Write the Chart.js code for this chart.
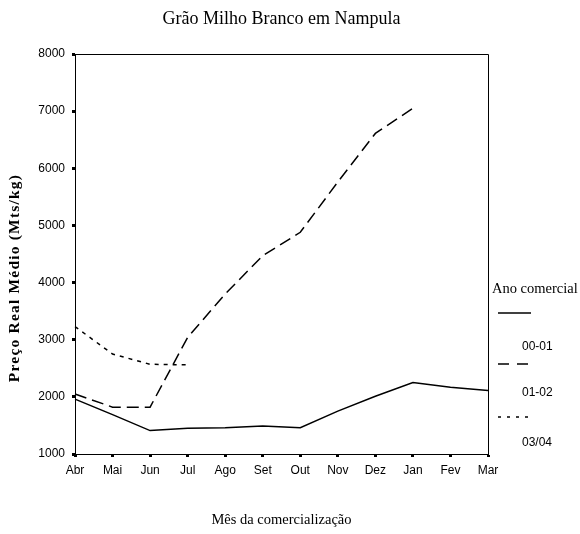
<!DOCTYPE html>
<html>
<head>
<meta charset="utf-8">
<script src="https://cdn.jsdelivr.net/npm/chart.js@4"></script>
<style>
  html, body { margin: 0; padding: 0; background: #ffffff; }
  #wrap { width: 580px; height: 534px; }
</style>
</head>
<body>
<div id="wrap"><canvas id="c" width="580" height="534"></canvas></div>
<script>
// ---- data ----
const chartTitle = 'Grão Milho Branco em Nampula';
const xTitle = 'Mês da comercialização';
const yTitle = 'Preço Real Médio (Mts/kg)';
const legendTitle = 'Ano comercial';
const months = ['Abr', 'Mai', 'Jun', 'Jul', 'Ago', 'Set', 'Out', 'Nov', 'Dez', 'Jan', 'Fev', 'Mar'];
const seriesNames = ['00-01', '01-02', '03/04'];
const price0001 = [1960, 1690, 1410, 1450, 1460, 1490, 1460, 1750, 2010, 2250, 2170, 2110];
const price0102 = [2050, 1820, 1820, 3040, 3800, 4470, 4880, 5760, 6610, 7050, null, null];
const price0304 = [3230, 2750, 2570, 2560, null, null, null, null, null, null, null, null];
const yMin = 1000;
const yMax = 8000;
const yStep = 1000;

const SERIF = '"Liberation Serif", "DejaVu Serif", serif';
const SANS = '"Liberation Sans", Arial, sans-serif';

const dashes = [[], [12, 6], [4, 5]];
const legendDashes = [[], [11, 8], [3, 6]];

const decor = {
  id: 'decor',
  afterDraw(chart) {
    const { ctx, chartArea: a } = chart;
    ctx.save();
    // frame: top and right edges
    ctx.strokeStyle = '#000';
    ctx.lineWidth = 1;
    ctx.beginPath();
    ctx.moveTo(a.left, a.top + 0.5);
    ctx.lineTo(a.right + 0.5, a.top + 0.5);
    ctx.lineTo(a.right + 0.5, a.bottom);
    ctx.stroke();

    // y-axis title
    ctx.save();
    ctx.translate(15, 278);
    ctx.rotate(-Math.PI / 2);
    ctx.fillStyle = '#000';
    ctx.font = 'bold 15.5px ' + SERIF;
    try { ctx.letterSpacing = '1.2px'; } catch (e) {}
    ctx.textAlign = 'center';
    ctx.textBaseline = 'middle';
    ctx.fillText(yTitle, 0, 0);
    ctx.restore();

    // legend
    const lx = a.right + 4;
    ctx.fillStyle = '#000';
    ctx.textBaseline = 'middle';
    ctx.textAlign = 'left';
    ctx.font = '14.5px ' + SERIF;
    ctx.fillText(legendTitle, lx, 289);
    const lineY = [313, 364, 417];
    const textY = [347, 393, 443];
    chart.data.datasets.forEach((ds, i) => {
      ctx.save();
      ctx.strokeStyle = '#000';
      ctx.lineWidth = 1.6;
      ctx.setLineDash(legendDashes[i]);
      ctx.beginPath();
      ctx.moveTo(a.right + 10, lineY[i]);
      ctx.lineTo(a.right + 43, lineY[i]);
      ctx.stroke();
      ctx.restore();
      ctx.font = '12px ' + SANS;
      ctx.fillText(ds.label, a.right + 34, textY[i]);
    });
    ctx.restore();
  }
};

const seriesData = [price0001, price0102, price0304];

new Chart(document.getElementById('c'), {
  type: 'line',
  data: {
    labels: months,
    datasets: seriesNames.map((name, i) => ({
      label: name,
      data: seriesData[i],
      borderColor: '#000',
      backgroundColor: '#000',
      borderWidth: 1.5,
      borderDash: dashes[i],
      pointRadius: 0,
      pointHoverRadius: 0,
      tension: 0,
      spanGaps: false,
      fill: false
    }))
  },
  options: {
    responsive: false,
    animation: false,
    devicePixelRatio: 1,
    layout: { padding: { left: 0, right: 92, top: 0, bottom: 0 } },
    plugins: {
      legend: { display: false },
      tooltip: { enabled: false },
      title: {
        display: true,
        text: chartTitle,
        fullSize: false,
        color: '#000',
        font: { family: SERIF, size: 18, weight: 'normal', lineHeight: 1.2 },
        padding: { top: 8, bottom: 24.4 }
      }
    },
    scales: {
      x: {
        type: 'category',
        offset: false,
        afterFit(s) { s.height = 80; },
        grid: {
          drawOnChartArea: false,
          drawTicks: true,
          tickLength: 3,
          tickWidth: 3,
          tickColor: '#000',
          color: '#000'
        },
        border: { display: true, color: '#000', width: 1 },
        ticks: {
          color: '#000',
          font: { family: SANS, size: 12 },
          padding: 6,
          maxRotation: 0,
          autoSkip: false
        },
        title: {
          display: true,
          text: xTitle,
          color: '#000',
          font: { family: SERIF, size: 14.5, weight: 'normal', lineHeight: 1.2 },
          padding: { top: 0, bottom: 5 }
        }
      },
      y: {
        min: yMin,
        max: yMax,
        afterFit(s) { s.width = 75; },
        grid: {
          drawOnChartArea: false,
          drawTicks: true,
          tickLength: 3,
          tickWidth: 3,
          tickColor: '#000',
          color: '#000'
        },
        border: { display: true, color: '#000', width: 1 },
        ticks: {
          stepSize: yStep,
          color: '#000',
          font: { family: SANS, size: 12 },
          padding: 7,
          callback: (v) => String(v)
        }
      }
    }
  },
  plugins: [decor]
});
</script>
</body>
</html>
